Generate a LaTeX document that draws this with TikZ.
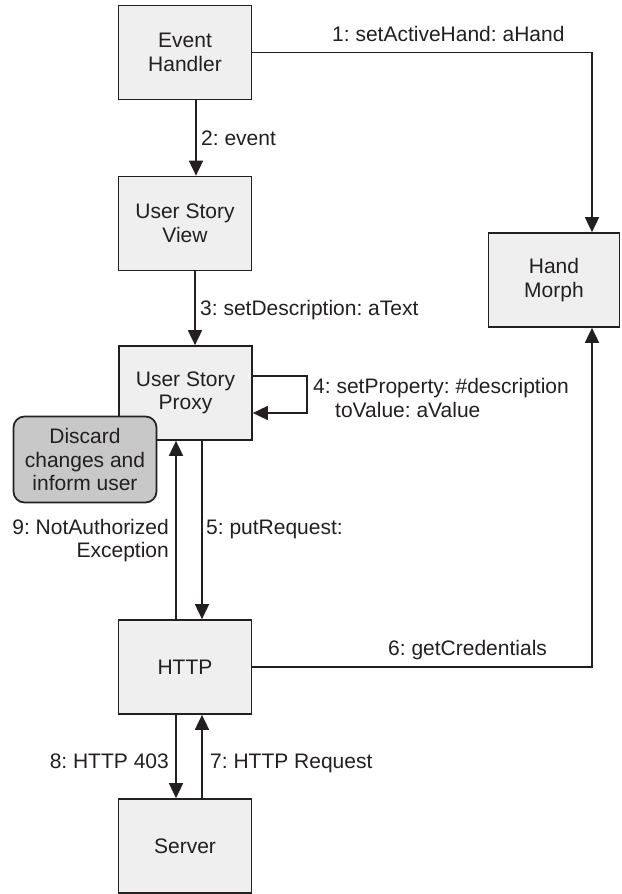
\documentclass[tikz,border=0pt]{standalone}
\usepackage{fontspec}
\setmainfont{Liberation Sans}
\usetikzlibrary{arrows.meta}
\definecolor{boxfill}{HTML}{EFEFEF}
\definecolor{discfill}{HTML}{C8C8C8}
\definecolor{ink}{HTML}{231F20}
\tikzset{
  objbox/.style={draw=ink, fill=boxfill, line width=1.7pt, minimum width=133pt, minimum height=94pt, align=center, inner sep=0pt, text=ink},
  notebox/.style={draw=ink, fill=discfill, line width=1.7pt, rounded corners=11pt, minimum width=143pt, minimum height=86pt, align=center, inner sep=0pt, text=ink},
  arr/.style={draw=ink, line width=1.7pt, -{Triangle[length=15pt,width=14pt]}},
  lbl/.style={inner sep=0pt, text=ink, align=left},
}
\begin{document}
\frenchspacing
\begin{tikzpicture}[x=1pt,y=-1pt, every node/.style={font=\fontsize{21}{23.5}\selectfont\frenchspacing}]
\useasboundingbox (0,0) rectangle (621,894);
% x positions of connectors
\coordinate (c196) at (196,0);
\coordinate (c195) at (195,0);
\coordinate (c202) at (202,0);
\coordinate (c176) at (176,0);
\coordinate (c592) at (592,0);
\coordinate (l4a) at (307,376);
\coordinate (l4b) at (307,413);
% objects
\node[objbox] (eh) at (185,52.5) {Event\\Handler};
\node[objbox] (usv) at (185,223.5) {User Story\\View};
\node[objbox] (usp) at (185.5,393) {User Story\\Proxy};
\node[objbox, minimum width=131pt] (hm) at (554,280) {Hand\\Morph};
\node[objbox] (http) at (185,667) {HTTP};
\node[objbox] (srv) at (185,846) {Server};
\node[notebox] (disc) at (85,459.5) {Discard\\changes and\\inform user};
% connectors
\draw[arr] (eh.east) -| (hm.north -| c592);
\draw[arr] (eh.south -| c196) -- (usv.north -| c196);
\draw[arr] (usv.south -| c195) -- (usp.north -| c195);
\draw[arr] (usp.east |- l4a) -- (l4a) -- (l4b) -- (usp.east |- l4b);
\draw[arr] (usp.south -| c202) -- (http.north -| c202);
\draw[arr] (http.north -| c176) -- (usp.south -| c176);
\draw[arr] (http.east) -| (hm.south -| c592);
\draw[arr] (http.south -| c176) -- (srv.north -| c176);
\draw[arr] (srv.north -| c202) -- (http.south -| c202);
% labels
\node[lbl, anchor=base west] (t1) at (332,41.5) {1: setActiveHand: aHand};
\node[lbl, anchor=base west] (t2) at (201,145) {2: event};
\node[lbl, anchor=base west] (t3) at (200,315) {3: setDescription: aText};
\node[lbl, anchor=base west] (t4) at (313,393.5) {4: setProperty: \#description};
\node[lbl, anchor=base west] (t4b) at (335,417) {toValue: aValue};
\node[lbl, anchor=base east, align=right] (t9) at (169,534) {9: NotAuthorized};
\node[lbl, anchor=base east, align=right] (t9b) at (169,557.5) {Exception};
\node[lbl, anchor=base west] (t5) at (206,534) {5: putRequest:};
\node[lbl, anchor=base west] (t6) at (388,655) {6: getCredentials};
\node[lbl, anchor=base east] (t8) at (169,768) {8: HTTP 403};
\node[lbl, anchor=base west] (t7) at (210,768) {7: HTTP Request};
\end{tikzpicture}
\end{document}
